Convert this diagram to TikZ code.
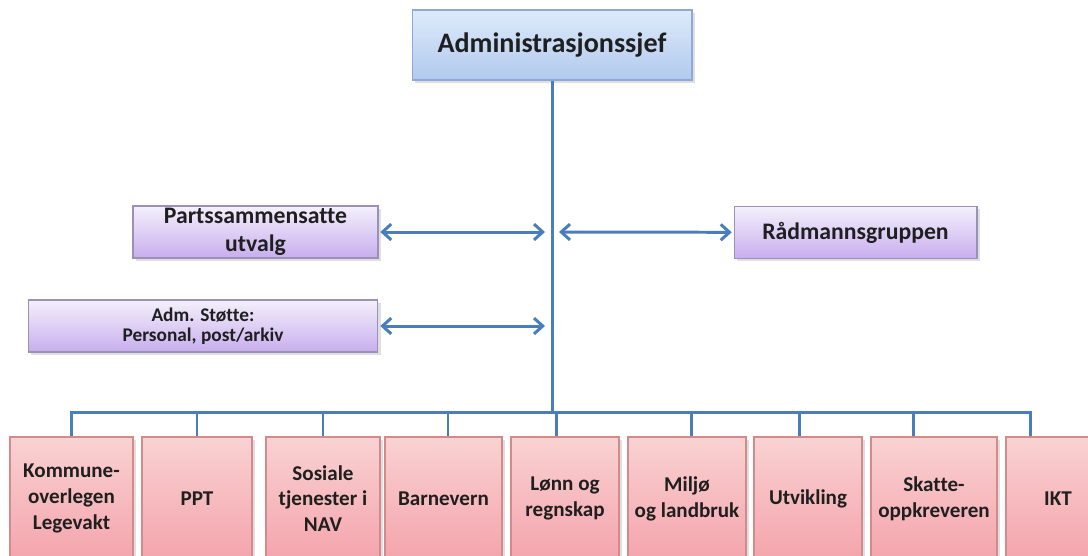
\documentclass[tikz,border=0pt]{standalone}
\usepackage{fontspec}
\setmainfont[Ligatures=NoCommon]{Carlito}
\usetikzlibrary{arrows.meta,shadows}
\definecolor{linkblue}{HTML}{4A7EBB}
\definecolor{chieftop}{HTML}{DDEAFA}
\definecolor{chiefbot}{HTML}{B2CAEE}
\definecolor{chiefline}{HTML}{8DA9DA}
\definecolor{stafftop}{HTML}{F4F0FB}
\definecolor{staffbot}{HTML}{C8AEEE}
\definecolor{staffline}{HTML}{9B91B6}
\definecolor{unittop}{HTML}{F9D2D2}
\definecolor{unitbot}{HTML}{F4A4AC}
\definecolor{unitline}{HTML}{D48A8C}
\begin{document}
\begin{tikzpicture}[x=0.02cm, y=-0.02cm,
box/.style={draw, line width=0.6pt, inner sep=0pt, align=center, text=black!88,
  drop shadow={opacity=0.25, shadow xshift=1.5pt, shadow yshift=-1.5pt}},
chief/.style={box, top color=chieftop, bottom color=chiefbot, draw=chiefline,
  minimum width=5.6cm, minimum height=1.4cm, font=\bfseries\fontsize{16}{19}\selectfont},
staff/.style={box, top color=stafftop, bottom color=staffbot, draw=staffline,
  minimum height=1.04cm, font=\bfseries\fontsize{13.5}{16}\selectfont},
unit/.style={box, top color=unittop, bottom color=unitbot, draw=unitline,
  minimum height=2.46cm, font=\bfseries\fontsize{12}{14.7}\selectfont},
link/.style={draw=linkblue, line width=1.7pt},
arr/.style={link, {Straight Barb[length=5pt,width=9pt]}-{Straight Barb[length=5pt,width=9pt]}}]
\useasboundingbox[fill=white] (0,0) rectangle (1088,555);
\node[chief] (chief) at (552,45) {Administrasjonssjef};
\node[staff, minimum width=4.9cm] (psu) at (255.5,232) {Partssammensatte\\utvalg};
\node[staff, minimum width=4.86cm] (radm) at (855.5,232.5) {Rådmannsgruppen};
\node[staff, minimum width=7cm, font=\bfseries\fontsize{11}{11.5}\selectfont] (adm) at (203,326)
  {Adm. Støtte:\\Personal, post/arkiv};
%
\node[unit, minimum width=2.46cm] (b1) at (71.5,498.5) {Kommune-\\overlegen\\Legevakt};
\node[unit, minimum width=2.2cm]  (b2) at (197,498.5)  {PPT};
\node[unit, minimum width=2.28cm] (b3) at (323,498.5)  {Sosiale\\tjenester i\\NAV};
\node[unit, minimum width=2.34cm] (b4) at (443.5,498.5) {Barnevern};
\node[unit, minimum width=2.16cm] (b5) at (565,498.5)  {Lønn og\\regnskap};
\node[unit, minimum width=2.36cm] (b6) at (687,498.5)  {Miljø\\og landbruk};
\node[unit, minimum width=2.16cm] (b7) at (808,498.5)  {Utvikling};
\node[unit, minimum width=2.52cm] (b8) at (934,498.5)  {Skatte-\\oppkreveren};
\node[unit, minimum width=2.08cm] (b9) at (1058,498.5) {IKT};
%
\coordinate (bus) at (552,412);
\coordinate (psuend) at (545,232);
\coordinate (radmend) at (559,232);
\coordinate (admend) at (545,326);
\draw[link] (chief) -- (bus);
\foreach \n/\dx in {b1/0,b2/0,b3/0,b4/0.09,b5/-0.18,b6/0.08,b7/-0.18,b8/-0.42,b9/-0.56}
  \draw[link] (bus) -| ([xshift=\dx cm]\n.north);
%
\draw[arr, shorten <=1pt] (psu) -- (psuend);
\draw[arr, shorten >=1pt] (radmend) -- (radm);
\draw[arr, shorten <=1pt] (adm) -- (admend);
\end{tikzpicture}
\end{document}
